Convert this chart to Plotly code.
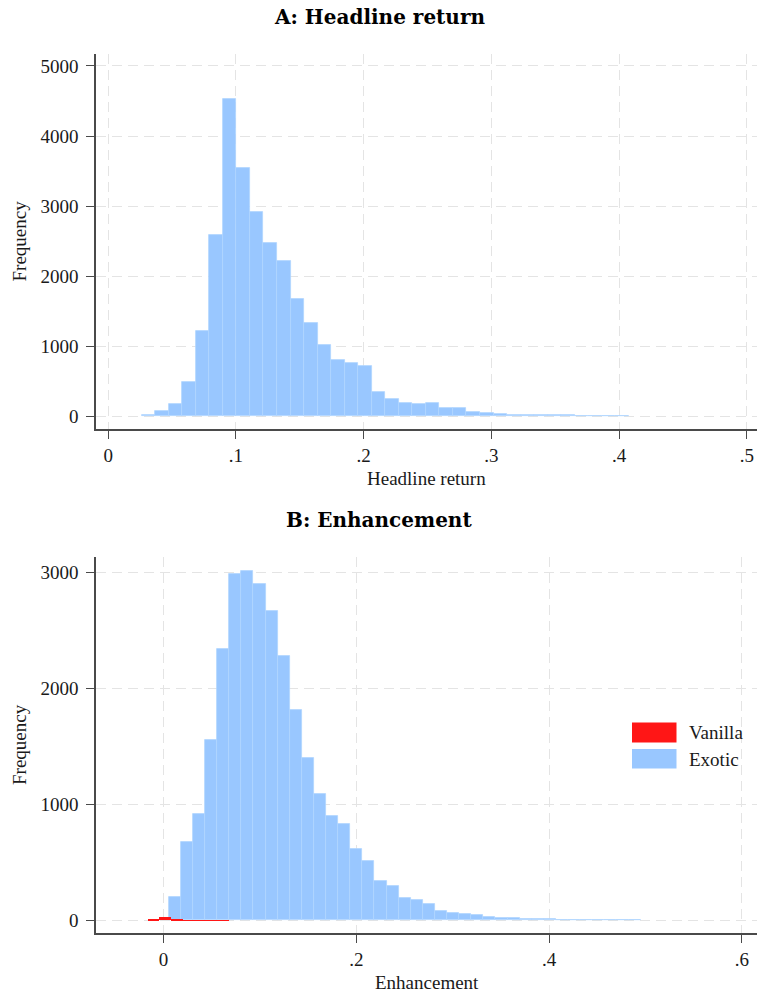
import plotly.graph_objects as go

# ---- Panel A: headline return histogram (Exotic) ----
ret_bin_start = 0.0261
ret_bin_width = 0.0106
ret_counts = [18, 80, 176, 485, 1218, 2593, 4529, 3549, 2916, 2469,
              2212, 1675, 1337, 1018, 804, 756, 718, 342, 252, 190,
              174, 195, 112, 114, 62, 48, 29, 16, 14, 18,
              14, 12, 10, 10, 9, 8]

# ---- Panel B: enhancement histograms ----
enh_bin_start = 0.0055
enh_bin_width = 0.01255
enh_exotic_counts = [198, 678, 914, 1552, 2336, 2989, 3014, 2902, 2670, 2276,
                     1810, 1399, 1092, 902, 830, 612, 509, 342, 296, 190,
                     172, 138, 83, 66, 52, 43, 29, 20, 17, 11,
                     9, 9, 6, 3, 3, 3, 2, 2, 1]

van_bin_start = -0.0161
van_bin_width = 0.012
enh_vanilla_counts = [14, 29, 12, 1, 2, 1, 1]

ret_xticks = [0, 0.1, 0.2, 0.3, 0.4, 0.5]
ret_xtick_text = ["0", ".1", ".2", ".3", ".4", ".5"]
ret_yticks = [0, 1000, 2000, 3000, 4000, 5000]
enh_xticks = [0, 0.2, 0.4, 0.6]
enh_xtick_text = ["0", ".2", ".4", ".6"]
enh_yticks = [0, 1000, 2000, 3000]

BLUE = "rgb(153,199,255)"
BLUE_EDGE = "rgb(176,212,255)"
RED = "rgb(255,22,22)"
AXIS = "#4a4a4a"
GRID = "#e4e4e4"
TXT = "#1a1a1a"
SERIF = "Liberation Serif, Times New Roman, serif"
TITLE_FONT = "DejaVu Serif, serif"

W, H = 758, 996


def px(x):
    return x / W


def py(y):
    return 1 - y / H


def centers(start, width, n):
    return [start + width * (i + 0.5) for i in range(n)]


fig = go.Figure()

fig.add_trace(go.Bar(
    x=centers(ret_bin_start, ret_bin_width, len(ret_counts)),
    y=ret_counts, width=ret_bin_width,
    marker=dict(color=BLUE, line=dict(color=BLUE_EDGE, width=0.8)),
    name="Exotic", showlegend=False, xaxis="x", yaxis="y",
))

fig.add_trace(go.Bar(
    x=centers(enh_bin_start, enh_bin_width, len(enh_exotic_counts)),
    y=enh_exotic_counts, width=enh_bin_width,
    marker=dict(color=BLUE, line=dict(color=BLUE_EDGE, width=0.8)),
    name="Exotic", showlegend=False, xaxis="x2", yaxis="y2",
))

fig.add_trace(go.Bar(
    x=centers(van_bin_start, van_bin_width, len(enh_vanilla_counts)),
    y=enh_vanilla_counts, width=van_bin_width,
    marker=dict(color=RED, line=dict(width=0)),
    name="Vanilla", showlegend=False, xaxis="x2", yaxis="y2",
))

xdom = [px(96), px(757)]

common_axis = dict(
    showline=True, linecolor=AXIS, linewidth=1.5,
    ticks="outside", ticklen=8, tickwidth=1.3, tickcolor=AXIS,
    showgrid=True, gridcolor=GRID, gridwidth=1, griddash="10px,6px",
    zeroline=False, tickfont=dict(family=SERIF, size=19, color=TXT),
    tickmode="array",
)

fig.update_layout(
    width=W, height=H,
    margin=dict(l=0, r=0, t=0, b=0),
    paper_bgcolor="white", plot_bgcolor="white",
    barmode="overlay", bargap=0,
    showlegend=False,
    xaxis=dict(domain=xdom, anchor="y", range=[-0.00963, 0.508],
               tickvals=ret_xticks, ticktext=ret_xtick_text, **common_axis),
    yaxis=dict(domain=[py(429), py(54)], anchor="x", range=[-181, 5171],
               tickvals=ret_yticks, ticktext=[str(v) for v in ret_yticks],
               ticklabelstandoff=4, **common_axis),
    xaxis2=dict(domain=xdom, anchor="y2", range=[-0.0699, 0.6156],
                tickvals=enh_xticks, ticktext=enh_xtick_text, **common_axis),
    yaxis2=dict(domain=[py(933.3), py(557)], anchor="x2", range=[-112, 3132],
                tickvals=enh_yticks, ticktext=[str(v) for v in enh_yticks],
                ticklabelstandoff=4, **common_axis),
)

annotations = [
    dict(text="<b>A: Headline return</b>", x=0.5, y=py(17),
         font=dict(family=TITLE_FONT, size=20, color="black")),
    dict(text="<b>B: Enhancement</b>", x=0.5, y=py(520),
         font=dict(family=TITLE_FONT, size=20, color="black")),
    dict(text="Headline return", x=px(426.5), y=py(478),
         font=dict(family=SERIF, size=19, color=TXT)),
    dict(text="Enhancement", x=px(426.5), y=py(982),
         font=dict(family=SERIF, size=19, color=TXT)),
    dict(text="Frequency", x=px(19), y=py(241.5), textangle=-90,
         font=dict(family=SERIF, size=19, color=TXT)),
    dict(text="Frequency", x=px(19), y=py(745), textangle=-90,
         font=dict(family=SERIF, size=19, color=TXT)),
    dict(text="Vanilla", x=px(687), y=py(732.5), xanchor="left",
         font=dict(family=SERIF, size=19, color=TXT)),
    dict(text="Exotic", x=px(687), y=py(759), xanchor="left",
         font=dict(family=SERIF, size=19, color=TXT)),
]
for a in annotations:
    a.setdefault("xanchor", "center")
    a.update(xref="paper", yref="paper", yanchor="middle", showarrow=False)
fig.update_layout(annotations=annotations)

# legend swatches
fig.update_layout(shapes=[
    dict(type="rect", xref="paper", yref="paper",
         x0=px(632), x1=px(676.5), y0=py(742.5), y1=py(722.5),
         fillcolor=RED, line=dict(width=0)),
    dict(type="rect", xref="paper", yref="paper",
         x0=px(632), x1=px(676.5), y0=py(768.5), y1=py(749),
         fillcolor=BLUE, line=dict(width=0)),
])

fig.write_html("out.html")
